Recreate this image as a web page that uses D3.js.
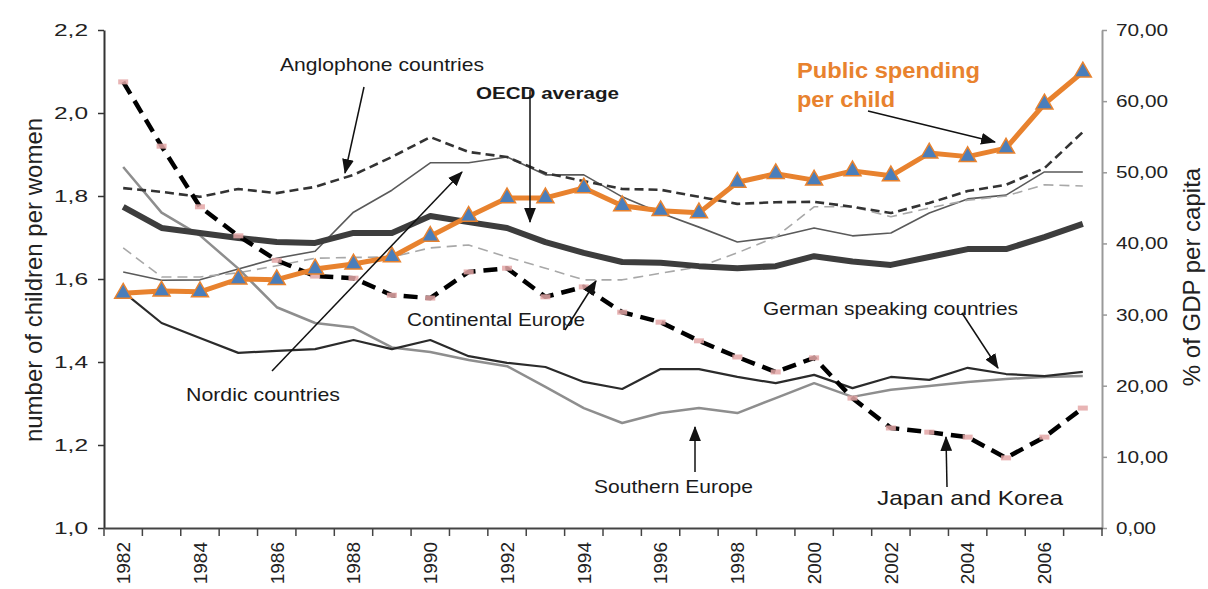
<!DOCTYPE html>
<html>
<head>
<meta charset="utf-8">
<script src="https://cdn.jsdelivr.net/npm/d3@7"></script>
<style>
  body { margin: 0; background: #fff; }
  text { font-family: Arial, "Liberation Sans", sans-serif; }
</style>
</head>
<body>
<div id="chart"></div>
<script>
// years on the category axis
const years = ["1982","1983","1984","1985","1986","1987","1988","1989","1990","1991","1992","1993","1994",
  "1995","1996","1997","1998","1999","2000","2001","2002","2003","2004","2005","2006","2007"];
const yearLabels = ["1982","1984","1986","1988","1990","1992","1994","1996","1998","2000","2002","2004","2006"];

// fertility, children per woman (left axis)
const oecdAverage = [1.774,1.723,1.711,1.699,1.689,1.687,1.711,1.711,1.752,1.737,1.723,1.689,1.663,
  1.641,1.639,1.631,1.626,1.631,1.655,1.642,1.634,1.653,1.672,1.672,1.701,1.733];
const anglophone = [1.819,1.810,1.798,1.817,1.807,1.822,1.851,1.894,1.942,1.906,1.894,1.855,1.836,
  1.817,1.815,1.798,1.781,1.785,1.786,1.774,1.759,1.783,1.812,1.827,1.867,1.954];
const nordic = [1.617,1.597,1.598,1.624,1.650,1.667,1.761,1.814,1.880,1.880,1.894,1.851,1.851,
  1.798,1.759,1.725,1.689,1.701,1.723,1.704,1.711,1.759,1.793,1.802,1.858,1.858];
const continental = [1.675,1.605,1.605,1.615,1.632,1.650,1.652,1.653,1.675,1.682,1.653,1.626,1.598,
  1.598,1.614,1.629,1.663,1.701,1.774,1.774,1.750,1.771,1.790,1.800,1.827,1.824];
const southern = [1.870,1.760,1.705,1.625,1.532,1.494,1.483,1.435,1.424,1.405,1.390,1.340,1.289,
  1.253,1.277,1.289,1.277,1.313,1.349,1.316,1.333,1.342,1.352,1.359,1.364,1.366];
const germanSpeaking = [1.569,1.494,1.458,1.422,1.427,1.431,1.453,1.431,1.453,1.414,1.398,1.388,1.352,
  1.335,1.383,1.383,1.364,1.349,1.369,1.337,1.364,1.357,1.386,1.371,1.366,1.376];
const japanKorea = [2.075,1.920,1.774,1.704,1.645,1.607,1.602,1.561,1.554,1.617,1.626,1.557,1.581,
  1.520,1.496,1.451,1.412,1.376,1.410,1.313,1.241,1.231,1.219,1.169,1.219,1.289];

// public spending per child, % of GDP per capita (right axis)
const publicSpending = [33.0,33.3,33.2,35.0,34.9,36.4,37.1,38.1,41.0,43.8,46.4,46.4,47.8,
  45.3,44.6,44.3,48.6,49.8,48.9,50.2,49.5,52.7,52.2,53.4,59.6,64.1];

const leftTicks = [1.0,1.2,1.4,1.6,1.8,2.0,2.2];
const rightTicks = [0,10,20,30,40,50,60,70];

const W = 1208, H = 589;
const svg = d3.select("#chart").append("svg")
  .attr("width", W)
  .attr("height", H);

const x = d3.scaleBand().domain(years).range([104, 1102]);
const yL = d3.scaleLinear().domain([1.0, 2.2]).range([528, 30]);
const yR = d3.scaleLinear().domain([0, 70]).range([528, 30]);
const cx = (d, i) => x(years[i]) + x.bandwidth() / 2;

// arrow head
svg.append("defs").append("marker")
  .attr("id", "head")
  .attr("markerUnits", "userSpaceOnUse")
  .attr("viewBox", "0 0 14 11")
  .attr("markerWidth", 15).attr("markerHeight", 12)
  .attr("refX", 13).attr("refY", 5.5)
  .attr("orient", "auto")
  .append("path").attr("d", "M0,0 L14,5.5 L0,11 Z").attr("fill", "#111");

// ---- axes
const commaFmt = f => d => d3.format(f)(d).replace(".", ",");

const axL = svg.append("g")
  .attr("transform", "translate(104,0)")
  .call(d3.axisLeft(yL).tickValues(leftTicks).tickFormat(commaFmt(".1f"))
    .tickSize(6).tickSizeOuter(0).tickPadding(10));
axL.select(".domain").attr("stroke", "#333").attr("stroke-width", 2);
axL.selectAll(".tick line").attr("stroke", "#333").attr("stroke-width", 1.5);
axL.selectAll(".tick text").attr("font-size", 17).attr("fill", "#222")
  .attr("textLength", 34).attr("lengthAdjust", "spacingAndGlyphs");

const axR = svg.append("g")
  .attr("transform", "translate(1102,0)")
  .call(d3.axisRight(yR).tickValues(rightTicks).tickFormat(commaFmt(".2f"))
    .tickSize(5).tickSizeOuter(0).tickPadding(9));
axR.select(".domain").attr("stroke", "#999").attr("stroke-width", 2);
axR.selectAll(".tick line").attr("stroke", "#999").attr("stroke-width", 1.5);
axR.selectAll(".tick text").attr("font-size", 17).attr("fill", "#222")
  .attr("textLength", d => d >= 10 ? 52 : 40).attr("lengthAdjust", "spacingAndGlyphs");

const axB = svg.append("g")
  .attr("transform", "translate(0,528)")
  .call(d3.axisBottom(x).tickValues(yearLabels).tickSize(0).tickSizeOuter(0));
axB.select(".domain").attr("stroke", "#444").attr("stroke-width", 2);
axB.selectAll(".tick text")
  .attr("font-size", 19).attr("fill", "#222")
  .attr("transform", "rotate(-90)")
  .attr("x", -14).attr("y", 0).attr("dy", "0.36em")
  .style("text-anchor", "end");

// tick marks between the year categories
axB.selectAll(".sep")
  .data(years.map(d => x(d)).concat([x.range()[1]]))
  .join("line")
  .attr("class", "sep")
  .attr("x1", d => d).attr("x2", d => d)
  .attr("y1", 0).attr("y2", 8)
  .attr("stroke", "#444").attr("stroke-width", 1.5);

// axis titles
svg.append("text")
  .attr("transform", "translate(42,280) rotate(-90)")
  .attr("text-anchor", "middle")
  .attr("font-size", 24).attr("fill", "#222")
  .text("number of children per women");
svg.append("text")
  .attr("transform", "translate(1200,277) rotate(-90)")
  .attr("text-anchor", "middle")
  .attr("font-size", 24).attr("fill", "#222")
  .text("% of GDP per capita");

// ---- fertility lines
const lineL = d3.line().x(cx).y(d => yL(d));
const lineR = d3.line().x(cx).y(d => yR(d));

const fertility = [
  { values: nordic, color: "#5a5a5a", width: 1.6, dash: null },
  { values: continental, color: "#a8a8a8", width: 1.6, dash: "10,6" },
  { values: southern, color: "#8e8e8e", width: 2.5, dash: null },
  { values: germanSpeaking, color: "#2b2b2b", width: 2.2, dash: null },
  { values: anglophone, color: "#333", width: 2.6, dash: "9,5" },
  { values: oecdAverage, color: "#3d3d3d", width: 6, dash: null },
  { values: japanKorea, color: "#000", width: 4.5, dash: "14,8" }
];

svg.selectAll(".fert")
  .data(fertility)
  .join("path")
  .attr("class", "fert")
  .attr("fill", "none")
  .attr("stroke", d => d.color)
  .attr("stroke-width", d => d.width)
  .attr("stroke-dasharray", d => d.dash)
  .attr("stroke-linejoin", "round")
  .attr("d", d => lineL(d.values));

// pink markers on Japan and Korea
svg.selectAll(".jk")
  .data(japanKorea)
  .join("rect")
  .attr("class", "jk")
  .attr("x", (d, i) => cx(d, i) - 5)
  .attr("y", d => yL(d) - 2.5)
  .attr("width", 10).attr("height", 5)
  .attr("fill", "#e4a7a7").attr("opacity", 0.85);

// ---- public spending per child (right axis)
svg.append("path")
  .datum(publicSpending)
  .attr("fill", "none")
  .attr("stroke", "#E8822E")
  .attr("stroke-width", 5)
  .attr("stroke-linejoin", "round")
  .attr("d", lineR);

svg.selectAll(".tri")
  .data(publicSpending)
  .join("path")
  .attr("class", "tri")
  .attr("transform", (d, i) => `translate(${cx(d, i)},${yR(d)})`)
  .attr("d", d3.symbol(d3.symbolTriangle).size(125))
  .attr("fill", "#4A7EBB")
  .attr("stroke", "#E8822E")
  .attr("stroke-width", 1.5);

// ---- annotations
const notes = [
  { t: "Anglophone countries", x: 280, y: 71, size: 19, len: 204, a: [364, 87, 345, 173] },
  { t: "OECD average", x: 476, y: 99, size: 17, len: 143, bold: true, a: [530, 90, 530, 222] },
  { t: "Public spending", x: 797, y: 78, size: 22, len: 183, bold: true, color: "#E8822E" },
  { t: "per child", x: 797, y: 107, size: 22, len: 98, bold: true, color: "#E8822E", a: [868, 111, 995, 142] },
  { t: "Continental Europe", x: 407, y: 326, size: 19, len: 178, a: [565, 330, 596, 281] },
  { t: "Nordic countries", x: 186, y: 401, size: 19, len: 154, a: [272, 371, 462, 172] },
  { t: "German speaking countries", x: 763, y: 315, size: 19, len: 255, a: [962, 313, 998, 368] },
  { t: "Southern Europe", x: 594, y: 493, size: 19, len: 159, a: [695, 472, 695, 427] },
  { t: "Japan and Korea", x: 877, y: 505, size: 21, len: 186, a: [947, 487, 946, 437] }
];

svg.selectAll(".note")
  .data(notes)
  .join("text")
  .attr("class", "note")
  .attr("x", d => d.x).attr("y", d => d.y)
  .attr("font-size", d => d.size)
  .attr("font-weight", d => d.bold ? "bold" : "normal")
  .attr("fill", d => d.color || "#1a1a1a")
  .attr("textLength", d => d.len)
  .attr("lengthAdjust", "spacingAndGlyphs")
  .text(d => d.t);

svg.selectAll(".arrow")
  .data(notes.filter(d => d.a))
  .join("line")
  .attr("class", "arrow")
  .attr("x1", d => d.a[0]).attr("y1", d => d.a[1])
  .attr("x2", d => d.a[2]).attr("y2", d => d.a[3])
  .attr("stroke", "#111").attr("stroke-width", 1.5)
  .attr("marker-end", "url(#head)");
</script>
</body>
</html>
